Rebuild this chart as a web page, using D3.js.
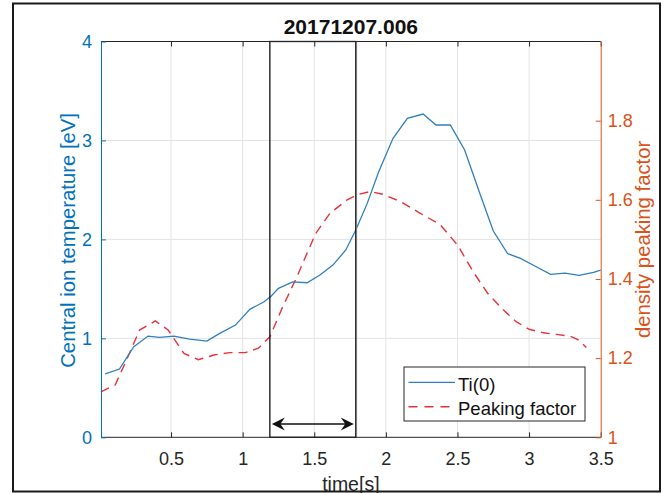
<!DOCTYPE html>
<html><head><meta charset="utf-8">
<script src="https://cdn.jsdelivr.net/npm/d3@7"></script>
<style>
html,body{margin:0;padding:0;background:#fff;}
svg{display:block;font-family:"Liberation Sans",Arial,Helvetica,sans-serif;}
</style></head>
<body>
<svg id="chart" width="671" height="493"></svg>
<script>
// ---- data ----
const tiTime = [0.04,0.14,0.24,0.34,0.42,0.52,0.63,0.75,0.84,0.95,1.05,1.15,1.2,1.25,1.35,1.45,1.54,1.63,1.72,1.79,1.87,1.95,2.05,2.15,2.26,2.35,2.45,2.55,2.66,2.75,2.85,2.94,3.04,3.15,3.25,3.35,3.45,3.5];
const tiValue = [0.64,0.69,0.915,1.023,1.01,1.023,0.993,0.973,1.05,1.134,1.293,1.37,1.428,1.505,1.57,1.562,1.64,1.74,1.893,2.095,2.364,2.684,3.022,3.224,3.267,3.156,3.156,2.903,2.449,2.085,1.857,1.808,1.731,1.647,1.66,1.637,1.667,1.69];
const pfTime = [0.01,0.11,0.19,0.28,0.39,0.48,0.59,0.69,0.8,0.91,1.02,1.11,1.19,1.28,1.38,1.44,1.51,1.61,1.73,1.8,1.89,1.98,2.1,2.24,2.38,2.5,2.61,2.71,2.82,2.91,3.0,3.1,3.19,3.29,3.34,3.4];
const pfValue = [1.115,1.132,1.196,1.271,1.294,1.271,1.212,1.196,1.208,1.214,1.214,1.225,1.254,1.33,1.406,1.457,1.515,1.566,1.6,1.613,1.621,1.614,1.596,1.566,1.537,1.486,1.418,1.364,1.322,1.292,1.273,1.264,1.26,1.255,1.247,1.227];
const xTicks = [0.5,1,1.5,2,2.5,3,3.5];
const xTickLabels = ["0.5","1","1.5","2","2.5","3","3.5"];
const leftTicks = [0,1,2,3,4];
const rightTicks = [1,1.2,1.4,1.6,1.8];
const rightTickLabels = ["1","1.2","1.4","1.6","1.8"];
const windowTimes = [1.19,1.79];
const arrowLevel = 0.135;
const titleText = "20171207.006";
const xLabel = "time[s]";
const leftLabel = "Central ion temperature [eV]";
const rightLabel = "density peaking factor";
const legendLabels = ["Ti(0)","Peaking factor"];

// ---- layout ----
const m = {left:101, right:600.7, top:41.5, bottom:437.3};
const blue = "#0072BD", orange = "#D95319", red = "#E8323C", axisCol = "#262626", tiCol = "#2f7fbf";
const fs = 18;
const FONT = "Liberation Sans, Arial, sans-serif";

const svg = d3.select("#chart");
const x = d3.scaleLinear().domain([0.011,3.5]).range([m.left,m.right]);
const yL = d3.scaleLinear().domain([0,4]).range([m.bottom,m.top]);
const yR = d3.scaleLinear().domain([1,2]).range([m.bottom,m.top]);
const cx = (m.left+m.right)/2, cy = (m.top+m.bottom)/2;

// grid
const grid = svg.append("g").attr("stroke","#e3e3e3").attr("stroke-width",1);
xTicks.filter(t=>t<3.5).forEach(t=>{
  grid.append("line").attr("x1",x(t)).attr("x2",x(t)).attr("y1",m.top).attr("y2",m.bottom);
});
leftTicks.filter(t=>t>0&&t<4).forEach(t=>{
  grid.append("line").attr("x1",m.left).attr("x2",m.right).attr("y1",yL(t)).attr("y2",yL(t));
});

// lines
const lineTi = d3.line().x((d,i)=>x(tiTime[i])).y(d=>yL(d));
const linePf = d3.line().x((d,i)=>x(pfTime[i])).y(d=>yR(d));
svg.append("path").attr("d",linePf(pfValue)).attr("fill","none")
  .attr("stroke",red).attr("stroke-width",1.4).attr("stroke-dasharray","9,6");
svg.append("path").attr("d",lineTi(tiValue)).attr("fill","none")
  .attr("stroke",tiCol).attr("stroke-width",1.3);

// window rectangle
svg.append("rect").attr("x",x(windowTimes[0])).attr("y",m.top)
  .attr("width",x(windowTimes[1])-x(windowTimes[0])).attr("height",m.bottom-m.top)
  .attr("fill","none").attr("stroke","#111").attr("stroke-width",1.3);
svg.append("line").attr("x1",x(windowTimes[1])+0.8).attr("x2",x(windowTimes[1])+0.8)
  .attr("y1",m.top).attr("y2",m.bottom).attr("stroke","#777").attr("stroke-width",1);

// double arrow
const ay = yL(arrowLevel), ax1 = x(windowTimes[0])+2, ax2 = x(windowTimes[1])-2;
svg.append("line").attr("x1",ax1+4).attr("x2",ax2-4).attr("y1",ay).attr("y2",ay)
  .attr("stroke","#111").attr("stroke-width",1.6);
const head = (tipX, dir)=>`M${tipX},${ay} L${tipX+dir*13},${ay-6.5} L${tipX+dir*8.5},${ay} L${tipX+dir*13},${ay+6.5} Z`;
svg.append("path").attr("d",head(ax1,1)).attr("fill","#111");
svg.append("path").attr("d",head(ax2,-1)).attr("fill","#111");

// axes frame
svg.append("line").attr("x1",m.left).attr("x2",m.right).attr("y1",m.top).attr("y2",m.top).attr("stroke",axisCol).attr("stroke-width",1);
svg.append("line").attr("x1",m.left).attr("x2",m.right).attr("y1",m.bottom).attr("y2",m.bottom).attr("stroke",axisCol).attr("stroke-width",1);

// x axis
const xAxis = d3.axisBottom(x).tickValues(xTicks).tickSizeInner(-5).tickSizeOuter(0).tickPadding(14.5)
  .tickFormat((d,i)=>xTickLabels[i]);
const gx = svg.append("g").attr("transform",`translate(0,${m.bottom})`).call(xAxis);
gx.select(".domain").remove();
gx.selectAll("line").attr("stroke",axisCol);
gx.selectAll("text").attr("fill","#262626").attr("font-size",fs).attr("font-family",FONT);
const gxTop = svg.append("g").attr("transform",`translate(0,${m.top})`)
  .call(d3.axisTop(x).tickValues(xTicks).tickSizeInner(-5).tickSizeOuter(0).tickFormat(""));
gxTop.select(".domain").remove();
gxTop.selectAll("line").attr("stroke",axisCol);

// left axis
const gl = svg.append("g").attr("transform",`translate(${m.left},0)`)
  .call(d3.axisLeft(yL).tickValues(leftTicks).tickSizeInner(-5).tickSizeOuter(0).tickPadding(9).tickFormat(d3.format("d")));
gl.select(".domain").attr("stroke",blue);
gl.selectAll("line").attr("stroke",blue);
gl.selectAll("text").attr("fill",blue).attr("font-size",fs).attr("font-family",FONT);

// right axis
const gr = svg.append("g").attr("transform",`translate(${m.right},0)`)
  .call(d3.axisRight(yR).tickValues(rightTicks).tickSizeInner(-5).tickSizeOuter(0).tickPadding(7)
  .tickFormat((d,i)=>rightTickLabels[i]));
gr.select(".domain").attr("stroke",orange);
gr.selectAll("line").attr("stroke",orange);
gr.selectAll("text").attr("fill",orange).attr("font-size",fs).attr("font-family",FONT);

// labels
svg.append("text").attr("x",cx).attr("y",34).attr("text-anchor","middle")
  .attr("font-weight","bold").attr("font-size",21).attr("fill","#111").text(titleText);
svg.append("text").attr("x",cx).attr("y",491).attr("text-anchor","middle")
  .attr("font-size",19.5).attr("fill","#262626").text(xLabel);
svg.append("text").attr("transform",`translate(74.5,${cy+1}) rotate(-90)`).attr("text-anchor","middle")
  .attr("font-size",20.3).attr("fill",blue).text(leftLabel);
svg.append("text").attr("transform",`translate(650,${cy}) rotate(-90)`).attr("text-anchor","middle")
  .attr("font-size",20.3).attr("fill",orange).text(rightLabel);

// legend
const lg = svg.append("g");
lg.append("rect").attr("x",404).attr("y",367).attr("width",181).attr("height",54)
  .attr("fill","#fff").attr("stroke",axisCol).attr("stroke-width",1);
lg.append("line").attr("x1",408.5).attr("x2",455).attr("y1",382.3).attr("y2",382.3).attr("stroke",tiCol).attr("stroke-width",1.3);
lg.append("line").attr("x1",408.5).attr("x2",455).attr("y1",406.7).attr("y2",406.7).attr("stroke",red).attr("stroke-width",1.4).attr("stroke-dasharray","9,7");
lg.append("text").attr("x",458).attr("y",390.5).attr("font-size",18.5).attr("fill","#111").text(legendLabels[0]);
lg.append("text").attr("x",458).attr("y",414.5).attr("font-size",18.5).attr("fill","#111").text(legendLabels[1]);

// outer figure border
svg.append("rect").attr("x",13).attr("y",3.5).attr("width",647).attr("height",488)
  .attr("fill","none").attr("stroke","#1a1a1a").attr("stroke-width",2);
</script>
</body></html>
